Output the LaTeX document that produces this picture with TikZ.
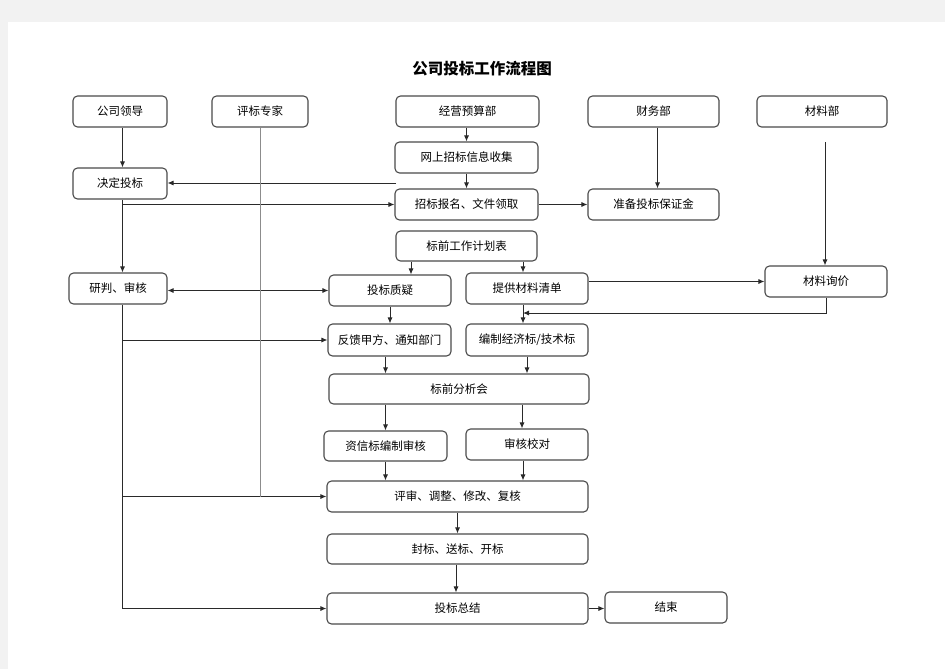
\documentclass[tikz,border=0pt]{standalone}
\usepackage{fontspec}
\newfontfamily\cjk{Noto Sans CJK SC}
\usepackage{tikz}
\usetikzlibrary{arrows.meta,calc,positioning}
\usepackage{xcolor}
\definecolor{paper}{HTML}{F2F2F2}
\definecolor{boxline}{HTML}{4A4A4A}
\definecolor{flowline}{HTML}{2A2A2A}
\definecolor{expertline}{HTML}{8C8C8C}
\pgfdeclarelayer{paperlayer}
\pgfdeclarelayer{edgelayer}
\pgfdeclarelayer{nodelayer}
\pgfsetlayers{paperlayer,edgelayer,nodelayer,main}
\tikzstyle{stepbox}=[draw=boxline, fill=white, rounded corners=4.5pt, line width=1.1, minimum height=31, inner sep=0pt, font=\cjk\fontsize{11.5}{12}\selectfont]
\tikzstyle{inarrow}=[-{Latex[length=6pt,width=5pt]}, draw=flowline, line width=0.9]
\tikzstyle{bothways}=[{Latex[length=6pt,width=5pt]}-{Latex[length=6pt,width=5pt]}, draw=flowline, line width=0.9]
\tikzstyle{simple}=[-, draw=expertline, line width=1.000]
\tikzstyle{none}=[inner sep=0pt]
\begin{document}
\begin{tikzpicture}[x=1pt, y=-1pt]
	\useasboundingbox (0,0) rectangle (945,669);
	\begin{pgfonlayer}{paperlayer}
		\fill [paper] (0,0) rectangle (945,669);
		\fill [white] (8,22) rectangle (945,669);
	\end{pgfonlayer}
	\begin{pgfonlayer}{nodelayer}
		\node [style=none, font=\cjk\bfseries\fontsize{15.5}{16}\selectfont] (title) at (482,69) {公司投标工作流程图};

		\node [style=stepbox, minimum width=94] (leader) at (120,111.5) {公司领导};
		\node [style=stepbox, minimum width=96] (expert) at (260,111.5) {评标专家};
		\node [style=stepbox, minimum width=143] (budget) at (467.5,111.5) {经营预算部};
		\node [style=stepbox, minimum width=131] (finance) at (653.5,111.5) {财务部};
		\node [style=stepbox, minimum width=130] (material) at (822,111.5) {材料部};

		\node [style=stepbox, minimum width=143] (info) at (466.5,157.5) {网上招标信息收集};
		\node [style=stepbox, minimum width=94] (decide) at (120,183.5) {决定投标};
		\node [style=stepbox, minimum width=143] (signup) at (466.5,204.5) {招标报名、文件领取};
		\node [style=stepbox, minimum width=131] (deposit) at (653.5,204.5) {准备投标保证金};

		\node [style=stepbox, minimum width=141, minimum height=30] (plan) at (466.5,246) {标前工作计划表};
		\node [style=stepbox, minimum width=98] (review) at (118,288.5) {研判、审核};
		\node [style=stepbox, minimum width=122] (query) at (390,290.5) {投标质疑};
		\node [style=stepbox, minimum width=122] (list) at (527,288.5) {提供材料清单};
		\node [style=stepbox, minimum width=122] (price) at (826,281.5) {材料询价};

		\node [style=stepbox, minimum width=123, minimum height=32] (feedback) at (389.5,340) {反馈甲方、通知部门};
		\node [style=stepbox, minimum width=122, minimum height=32] (compile) at (527,340) {编制经济标/技术标};
		\node [style=stepbox, minimum width=260, minimum height=30] (meeting) at (459,389) {标前分析会};
		\node [style=stepbox, minimum width=123, minimum height=30] (credit) at (385.5,446) {资信标编制审核};
		\node [style=stepbox, minimum width=122] (check) at (527,444.5) {审核校对};

		\node [style=stepbox, minimum width=261] (adjust) at (457.5,496.5) {评审、调整、修改、复核};
		\node [style=stepbox, minimum width=261, minimum height=30] (seal) at (457.5,549) {封标、送标、开标};
		\node [style=stepbox, minimum width=261] (summary) at (457.5,608.5) {投标总结};
		\node [style=stepbox, minimum width=122] (finish) at (666,607.5) {结束};

		\coordinate (trunk) at (122.5,0);
		\coordinate (back) at (396,183);
		\coordinate (matin) at (825,142);
		\coordinate (rejoin) at (523,313);
	\end{pgfonlayer}
	\begin{pgfonlayer}{edgelayer}
		% leader side
		\draw [style=inarrow] (leader.south -| trunk) to (decide.north -| trunk);
		\draw [style=inarrow] (back) to (back -| decide.east);
		\draw [style=inarrow] (trunk |- signup.west) to (signup.west);
		\draw [style=inarrow] (decide.south -| trunk) to (review.north -| trunk);
		\draw [style=bothways] (query.west -| review.east) to (query.west);
		\draw [style=inarrow] (review.south -| trunk) |- (summary.west);
		\draw [style=inarrow] (trunk |- feedback.west) to (feedback.west);
		\draw [style=inarrow] (trunk |- adjust.west) to (adjust.west);
		\draw [style=simple] (expert.south) to (expert.south |- adjust.west);
		% budget and finance
		\draw [style=inarrow] (info.north |- budget.south) to (info.north);
		\draw [style=inarrow] (info.south) to (signup.north);
		\draw [style=inarrow] (signup.east) to (signup.east -| deposit.west);
		\draw [style=inarrow] ([xshift=4pt]finance.south) to ([xshift=4pt]deposit.north);
		% material
		\draw [style=inarrow] (matin) to (matin |- price.north);
		\draw [style=inarrow] (list.east |- price.west) to (price.west);
		\draw [style=inarrow] (price.south) |- (rejoin);
		% plan
		\draw [style=inarrow] ([xshift=-55.5pt]plan.south) to ([xshift=-55.5pt]plan.south |- query.north);
		\draw [style=inarrow] (plan.south -| rejoin) to (list.north -| rejoin);
		\draw [style=inarrow] (query.south) to (query.south |- feedback.north);
		\draw [style=inarrow] (list.south -| rejoin) to (compile.north -| rejoin);
		\draw [style=inarrow] (feedback.south -| credit.north) to (meeting.north -| credit.north);
		\draw [style=inarrow] (compile.south) to (compile.south |- meeting.north);
		\draw [style=inarrow] (meeting.south -| credit.north) to (credit.north);
		\draw [style=inarrow] ([xshift=-5pt]check.north |- meeting.south) to ([xshift=-5pt]check.north);
		\draw [style=inarrow] (credit.south) to (credit.south |- adjust.north);
		\draw [style=inarrow] ([xshift=-4pt]check.south) to ([xshift=-4pt]check.south |- adjust.north);
		\draw [style=inarrow] (adjust.south) to (seal.north);
		\draw [style=inarrow] ([xshift=-1.5pt]seal.south) to ([xshift=-1.5pt]summary.north);
		\draw [style=inarrow] (summary.east) to (summary.east -| finish.west);
	\end{pgfonlayer}
\end{tikzpicture}
\end{document}
